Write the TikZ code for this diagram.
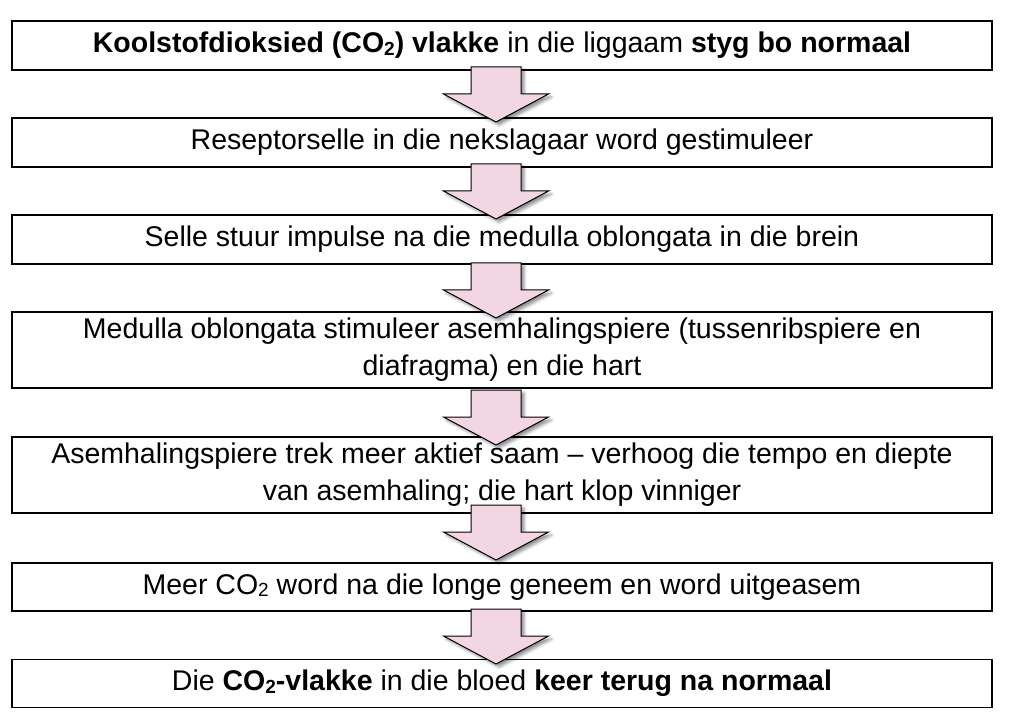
\documentclass[tikz,border=0pt]{standalone}
\usepackage{fontspec}
\setmainfont{Liberation Sans}
\usetikzlibrary{shadows.blur}
\definecolor{arrowpink}{RGB}{243,214,228}
\newcommand{\subtwo}{{\fontsize{19}{19}\selectfont\raisebox{-2.5pt}{2}}}
\tikzset{
  flowbox/.style={draw=black, line width=1.2pt, minimum width=980pt, align=center, inner sep=0pt,
    font=\fontsize{28.5}{37}\selectfont},
  blockarrow/.style={draw=black, line width=1pt, fill=arrowpink,
    blur shadow={shadow xshift=3pt, shadow yshift=-3pt, shadow blur radius=3pt, shadow opacity=45}},
  pics/downarrow/.style={code={
    \path[blockarrow] (-25,0) -- (25,0) -- (25,27) -- (52.5,27) -- (0,55) -- (-52.5,27) -- (-25,27) -- cycle;}}
}
\begin{document}
\begin{tikzpicture}[x=1pt,y=-1pt]
\useasboundingbox (0,0) rectangle (1009,727);
\node[flowbox, minimum height=49pt] (b1) at (502,45.5)
  {\textbf{Koolstofdioksied (CO\subtwo) vlakke} in die liggaam \textbf{styg bo normaal}};
\node[flowbox, minimum height=49pt] (b2) at (502,142.5)
  {Reseptorselle in die nekslagaar word gestimuleer};
\node[flowbox, minimum height=49pt] (b3) at (502,239.5)
  {Selle stuur impulse na die medulla oblongata in die brein};
\node[flowbox, minimum height=76pt] (b4) at (502,350)
  {Medulla oblongata stimuleer asemhalingspiere (tussenribspiere en\\diafragma) en die hart};
\node[flowbox, minimum height=76pt] (b5) at (502,475)
  {Asemhalingspiere trek meer aktief saam – verhoog die tempo en diepte\\van asemhaling; die hart klop vinniger};
\node[flowbox, minimum height=48pt] (b6) at (502,587)
  {Meer CO\subtwo{} word na die longe geneem en word uitgeasem};
\node[flowbox, minimum height=48pt] (b7) at (502,683.5)
  {Die \textbf{CO\subtwo-vlakke} in die bloed \textbf{keer terug na normaal}};
\pic (a1) at (496,67) {downarrow};
\pic (a2) at (496,164) {downarrow};
\pic (a3) at (496,263) {downarrow};
\pic (a4) at (496,390) {downarrow};
\pic (a5) at (496,505) {downarrow};
\pic (a6) at (496,609) {downarrow};
\end{tikzpicture}
\end{document}
